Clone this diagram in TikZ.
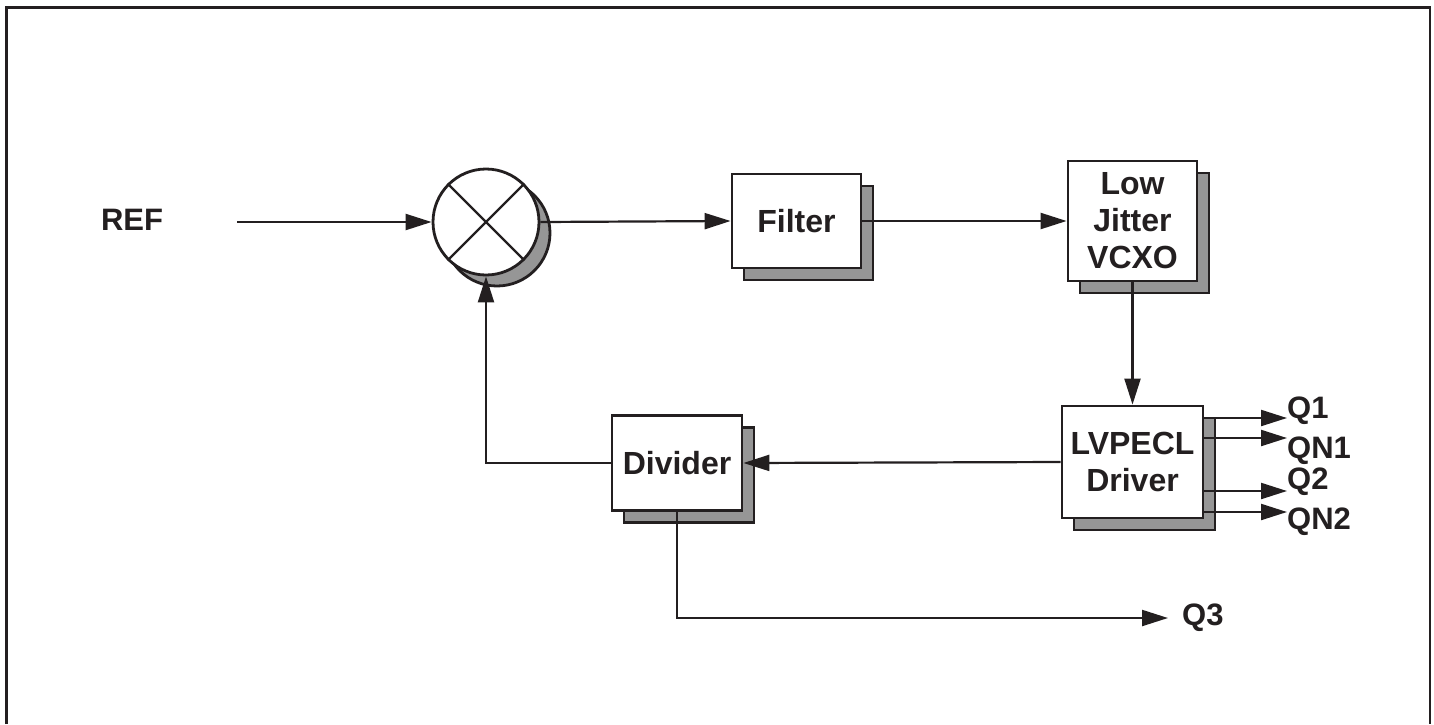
\documentclass[tikz,border=0pt]{standalone}
\usepackage{fontspec}
\setmainfont{Liberation Sans}
\usetikzlibrary{shadows,arrows.meta}
\definecolor{shadowgray}{RGB}{150,150,150}
\definecolor{ink}{RGB}{35,31,32}
\begin{document}
\begin{tikzpicture}[x=1pt,y=-1pt,
  blk/.style={draw=ink,line width=2.8pt,fill=white,inner sep=0pt,align=center,
    font=\fontsize{32}{37}\selectfont\bfseries,text=ink,
    copy shadow={shadow xshift=12pt,shadow yshift=-12pt,fill=shadowgray,draw=ink,line width=2.8pt}},
  mixer/.style={circle,draw=ink,line width=2.8pt,fill=white,inner sep=0pt,minimum size=106pt,
    copy shadow={shadow xshift=11pt,shadow yshift=-11pt,fill=shadowgray,draw=ink,line width=2.8pt}},
  arr/.style={draw=ink,line width=2.2pt,-{Triangle[length=26pt,width=16pt]}},
  lbl/.style={font=\fontsize{31}{34}\selectfont\bfseries,text=ink,inner sep=0pt},
  frame/.style={draw=ink,line width=2.8pt}
]
\useasboundingbox (0,0) rectangle (1434,724);
\draw[frame] (6.5,724) -- (6.5,7.5) -- (1430,7.5) -- (1430,724);

\node[mixer] (mix) at (486,222) {};
\draw[draw=ink,line width=2.4pt] (mix.45) -- (mix.225) (mix.135) -- (mix.315);

\node[blk,minimum width=129pt,minimum height=94pt] (filt) at (796.5,221) {Filter};
\node[blk,minimum width=129pt,minimum height=120pt] (vcxo) at (1132.5,221) {Low\\Jitter\\VCXO};
\node[blk,minimum width=141pt,minimum height=112pt] (drv) at (1132.5,462) {LVPECL\\Driver};
\node[blk,minimum width=130pt,minimum height=95pt] (div) at (677,463) {Divider};

\node[lbl] (ref) at (132,220) {REF};
\coordinate (refin) at (237,222);
\draw[arr] (refin) -- (mix.west);
\draw[arr] (mix.east) -- (filt.west);
\draw[arr] (filt.east) -- (vcxo.west);
\draw[arr] (vcxo.south) -- (drv.north);
\draw[arr] (drv.west) -- (div.east);
\draw[arr] (div.west) -| (mix.south);

\coordinate (o1) at (1287,418);
\coordinate (o2) at (1287,438);
\coordinate (o3) at (1287,491);
\coordinate (o4) at (1287,512);
\draw[arr] (drv.east |- o1) -- (o1);
\draw[arr] (drv.east |- o2) -- (o2);
\draw[arr] (drv.east |- o3) -- (o3);
\draw[arr] (drv.east |- o4) -- (o4);
\node[lbl,anchor=west] (q1) at (1287,411) {Q1};
\node[lbl,anchor=west] (qn1) at (1287,451) {QN1};
\node[lbl,anchor=west] (q2) at (1287,482) {Q2};
\node[lbl,anchor=west] (qn2) at (1287,522) {QN2};

\coordinate (q3tip) at (1168,618);
\draw[arr] (div.south) |- (q3tip);
\node[lbl,anchor=west] (q3) at (1182,618) {Q3};
\end{tikzpicture}
\end{document}
